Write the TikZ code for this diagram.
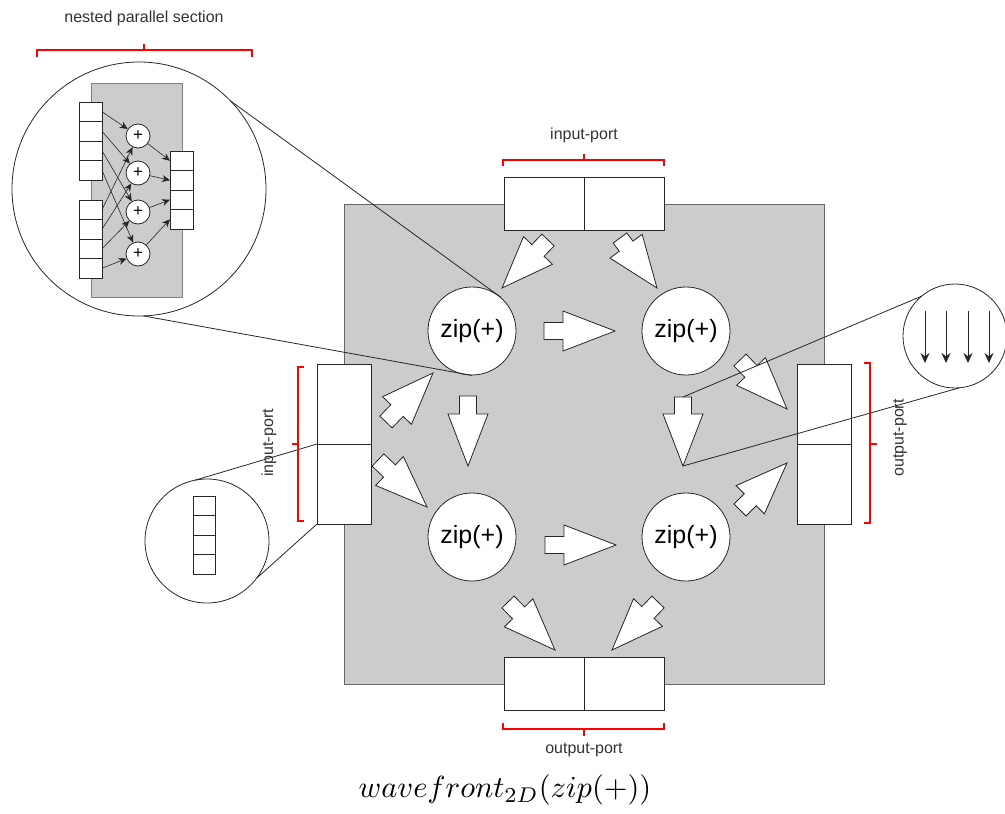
\documentclass[tikz,border=0pt]{standalone}
\usepackage{fontspec}
\setmainfont{Liberation Sans}
\usetikzlibrary{calc,arrows.meta}

\tikzset{
  port/.style={draw, fill=white, minimum width=80pt, minimum height=53pt, inner sep=0pt, outer sep=0pt},
  vport/.style={port, minimum width=54pt, minimum height=80pt},
  zipcircle/.style={circle, draw, fill=white, minimum size=88pt, inner sep=0pt, font=\fontsize{25}{30}\selectfont},
  redbracket/.style={red, line width=2pt},
  portlabel/.style={font=\fontsize{16}{19}\selectfont, text=black!80},
  fatarrow/.style={draw, fill=white, line join=miter},
  cell/.style={draw, fill=white, minimum width=23pt, minimum height=19.5pt, inner sep=0pt, outer sep=0pt},
  plusnode/.style={circle, draw, fill=white, minimum size=24pt, inner sep=0pt, font=\fontsize{17}{17}\selectfont},
  lens/.style={circle, draw, fill=white, inner sep=0pt, outer sep=0pt},
}

% block arrow from tail #1 to tip #2
\newcommand{\fatarrow}[2]{%
  \coordinate (fa-a) at (#1);
  \coordinate (fa-b) at (#2);
  \coordinate (fa-n) at ($(fa-b)!52pt!(fa-a)$);
  \draw[fatarrow] ($(fa-a)!8.5pt!90:(fa-b)$) -- ($(fa-n)!8.5pt!-90:(fa-a)$)
    -- ($(fa-n)!20pt!-90:(fa-a)$) -- (fa-b) -- ($(fa-n)!20pt!90:(fa-a)$)
    -- ($(fa-n)!8.5pt!90:(fa-a)$) -- ($(fa-a)!8.5pt!-90:(fa-b)$) -- cycle;}

\begin{document}
\begin{tikzpicture}[x=1pt, y=-1pt, line width=0.8pt, draw=black!85]
  \useasboundingbox (0,0) rectangle (1005,814);

  % wavefront area
  \draw[draw=black!60, fill=gray!40] (344,204) rectangle (824,684);

  % ports
  \node[port] (inTa) at (544,203.5) {};
  \node[port] (inTb) at (624,203.5) {};
  \node[port] (outBa) at (544,683.5) {};
  \node[port] (outBb) at (624,683.5) {};
  \node[vport] (inLa) at (344,404) {};
  \node[vport] (inLb) at (344,484) {};
  \node[vport] (outRa) at (824,404) {};
  \node[vport] (outRb) at (824,484) {};

  % zip nodes
  \node[zipcircle] (zipTL) at (472,331) {zip(+)};
  \node[zipcircle] (zipTR) at (686,331) {zip(+)};
  \node[zipcircle] (zipBL) at (472,537) {zip(+)};
  \node[zipcircle] (zipBR) at (686,537) {zip(+)};

  % data flow
  \coordinate (tailTRBR) at (683,397);
  \coordinate (tipTRBR) at (683,466);
  \fatarrow{548,240}{502,288}
  \fatarrow{620,238}{657,288}
  \fatarrow{544,331}{615,331}
  \fatarrow{468,396}{468,466}
  \fatarrow{tailTRBR}{tipTRBR}
  \fatarrow{545,545}{616,545}
  \fatarrow{386,422}{433,373}
  \fatarrow{378,460}{427,507}
  \fatarrow{740,360}{787,409}
  \fatarrow{740,510}{787,463}
  \fatarrow{508,602}{555,650}
  \fatarrow{658,602}{612,650}

  % nested parallel section
  \node[lens, minimum size=254pt] (lensA) at (139,189) {};
  \draw[draw=black!50, fill=gray!40] (91,83) rectangle (182,297);
  \foreach \i in {1,...,4} {
    \node[cell] (up\i) at (90.5,{92.25+19.5*\i}) {};
    \node[cell] (lo\i) at (90.5,{190.25+19.5*\i}) {};
    \node[cell] (out\i) at (181.5,{141.25+19.5*\i}) {};
  }
  \foreach \i/\y in {1/136,2/173,3/212,4/254}
    \node[plusnode] (p\i) at (138,\y) {+};
  \foreach \i in {1,...,4} {
    \draw[-{Stealth[length=8pt,width=7pt]}, line width=0.6pt] (up\i.east) -- (p\i);
    \draw[-{Stealth[length=8pt,width=7pt]}, line width=0.6pt] (lo\i.east) -- (p\i);
    \draw[-{Stealth[length=8pt,width=7pt]}, line width=0.6pt] (p\i) -- (out\i.west);
  }

  % input element
  \node[lens, minimum size=124pt] (lensB) at (207,541) {};
  \foreach \i in {1,...,4}
    \node[cell, minimum width=22pt] (elem\i) at (204,{486.25+19.5*\i}) {};

  % output stream
  \node[lens, minimum size=104pt] (lensC) at (955,336) {};
  \foreach \x in {925,946,968,989}
    \draw[-{Stealth[length=10pt,width=9pt]}] (\x,311) -- (\x,363);

  % zoom lines
  \draw (lensA.44) -- (zipTL.49);
  \draw (lensA.-88) -- (zipTL.-90);
  \draw (lensB.101) -- (inLa.south west);
  \draw (lensB.-37) -- (inLb.south west);
  \draw (lensC.130) -- (tailTRBR);
  \draw (lensC.-85) -- (tipTRBR);

  % brackets
  \draw[redbracket] (37,57) -- (37,50) -- (252,50) -- (252,57) (144,50) -- (144,44);
  \draw[redbracket] (503,166) -- (503,160) -- (664,160) -- (664,166) (583.5,160) -- (583.5,154);
  \draw[redbracket] (503,723) -- (503,729) -- (664,729) -- (664,723) (583.5,729) -- (583.5,736);
  \draw[redbracket] (304,367) -- (298,367) -- (298,521) -- (304,521) (298,444) -- (292,444);
  \draw[redbracket] (864,363) -- (870,363) -- (870,523) -- (864,523) (870,444) -- (877,444);

  % labels
  \node[portlabel] (nestedlbl) at (144,18) {nested parallel section};
  \node[portlabel] (inTlbl) at (584,135) {input-port};
  \node[portlabel] (outBlbl) at (584,750) {output-port};
  \node[portlabel, rotate=90] (inLlbl) at (269,443) {input-port};
  \node[portlabel, rotate=90] (outRlbl) at (900,438) {output-port};
  \node[scale=3.05] (caption) at (505,790) {$wavefront_{2D}(zip(+))$};
\end{tikzpicture}
\end{document}
